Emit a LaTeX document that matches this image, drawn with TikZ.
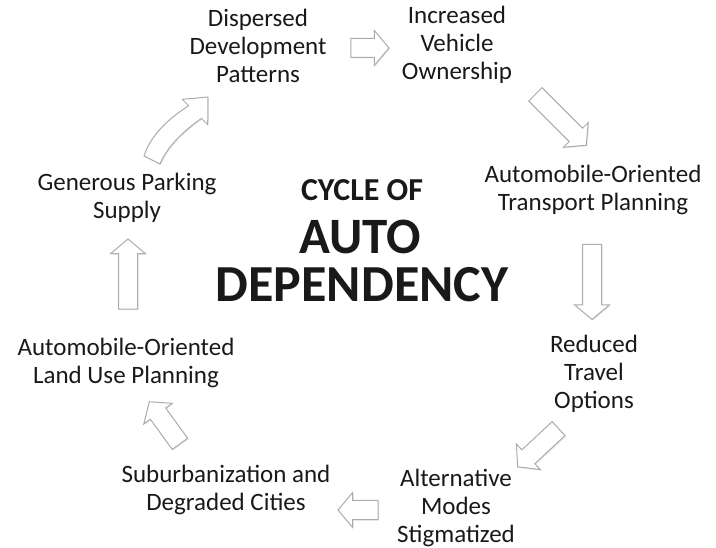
\documentclass[tikz,border=0pt]{standalone}
\usepackage{fontspec}
\setmainfont{Carlito}
\usetikzlibrary{shapes.arrows,shadows}

\begin{document}
\begin{tikzpicture}[x=1pt, y=-1pt,
    stage/.style={align=center, font=\fontsize{25}{28}\selectfont, text=black!90},
    title/.style={font=\bfseries\fontsize{#1}{#1}\selectfont, text=black!90},
    bigarrow/.style={single arrow, draw=gray!65, line width=1pt, fill=white,
        inner sep=9pt, single arrow head extend=8pt, single arrow tip angle=100,
        drop shadow={opacity=.2, shadow xshift=1pt, shadow yshift=-1pt}}]
    \useasboundingbox (0,0) rectangle (716,548);

    % Stages of the cycle
    \node[stage] (DDP) at (258,46) {Dispersed\\Development\\Patterns};
    \node[stage] (IVO) at (457,45) {Increased\\Vehicle\\Ownership};
    \node[stage] (ATP) at (593,190) {Automobile-Oriented\\Transport Planning};
    \node[stage] (RTO) at (594,374) {Reduced\\Travel\\Options};
    \node[stage] (AMS) at (456,508) {Alternative\\Modes\\Stigmatized};
    \node[stage] (SDC) at (226,490) {Suburbanization and\\Degraded Cities};
    \node[stage] (ALU) at (126,363) {Automobile-Oriented\\Land Use Planning};
    \node[stage] (GPS) at (127,198) {Generous Parking\\Supply};

    % Title in the middle
    \node[title=32] (cyc) at (362,190) {CYCLE OF};
    \node[title=51] (auto) at (360,237) {AUTO};
    \node[title=52] (dep) at (362,285) {DEPENDENCY};

    % Block arrows between the stages
    \node[bigarrow, minimum height=38pt] (a1) at (366,48) {};
    \node[bigarrow, minimum height=72pt, rotate=-45] (a2) at (558,117) {};
    \node[bigarrow, minimum height=75pt, rotate=-90] (a3) at (592,278) {};
    \node[bigarrow, minimum height=56pt, rotate=-137] (a4) at (541,445) {};
    \node[bigarrow, minimum height=40pt, rotate=180] (a5) at (362,510) {};
    \node[bigarrow, minimum height=52pt, rotate=126] (a6) at (167,426) {};
    \node[bigarrow, minimum height=70pt, rotate=90] (a7) at (128,278) {};

    % Bent arrow back up to the first stage
    \draw[draw=gray!65, line width=1pt, fill=white, line join=round,
        drop shadow={opacity=.2, shadow xshift=1pt, shadow yshift=-1pt}]
        (144,156) .. controls (151,134) and (170,118) .. (188.6,105.6)
        -- (182.3,99.3) -- (208,97) -- (207.7,124.7) -- (201.4,118.4)
        .. controls (185,130) and (168,145) .. (160,164) -- cycle;
\end{tikzpicture}
\end{document}
